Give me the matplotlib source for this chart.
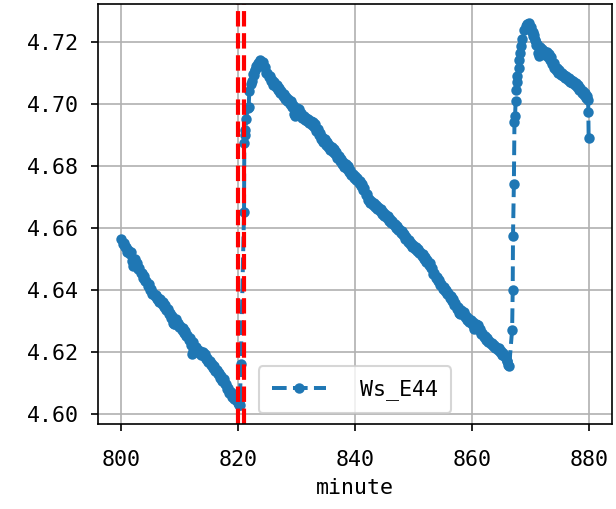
import matplotlib
matplotlib.use("Agg")
from matplotlib import pyplot as plt

# minute / Ws_E44 values (upper side of the trace)
minute = [
    800.0, 800.4, 800.8, 801.2, 801.6, 802.0, 802.3, 802.7, 803.1, 803.5,
    803.9, 804.3, 804.7, 805.1, 805.5, 805.9, 806.3, 806.7, 807.1, 807.5,
    807.9, 808.3, 808.7, 809.0, 809.3, 809.7, 810.1, 810.5, 810.9, 811.3,
    811.7, 812.1, 812.3, 812.7, 813.1, 813.5, 813.9, 814.3, 814.7, 815.1,
    815.5, 815.9, 816.3, 816.7, 817.1, 817.5, 817.9, 818.3, 818.7, 819.1,
    819.5, 819.8, 820.1, 820.3,
    820.45, 821.0, 821.05, 821.1, 821.2, 821.4, 821.6, 821.8, 821.9, 822.2,
    822.5, 822.8, 823.1, 823.4, 823.8, 824.2, 824.6, 825.0, 825.4, 825.8,
    826.2, 826.6, 827.0, 827.4, 827.8, 828.2, 828.6, 829.0, 829.4, 829.8,
    830.0, 830.4, 830.8, 831.2, 831.6, 832.0, 832.4, 832.8, 833.2, 833.6,
    834.0, 834.4, 834.8, 835.2, 835.6, 836.0, 836.4, 836.8, 837.2, 837.6,
    838.0, 838.4, 838.8, 839.2, 839.6, 840.0, 840.4, 840.8, 841.2, 841.6,
    842.0, 842.4, 842.8, 843.2, 843.6, 844.0, 844.4, 844.8, 845.2, 845.6,
    846.0, 846.4, 846.8, 847.2, 847.6, 848.0, 848.4, 848.8, 849.2, 849.6,
    850.0, 850.4, 850.8, 851.2, 851.6, 852.0, 852.4, 852.8, 853.2, 853.6,
    854.0, 854.4, 854.8, 855.2, 855.6, 856.0, 856.4, 856.8, 857.2, 857.6,
    857.9, 858.2, 858.6, 859.0, 859.4, 859.8, 860.2, 860.4, 860.7, 861.0,
    861.4, 861.8, 862.2, 862.6, 863.0, 863.4, 863.8, 864.2, 864.6, 865.0,
    865.4, 865.8, 866.1, 866.4,
    866.9, 867.0, 867.05, 867.2, 867.3, 867.4, 867.5, 867.6, 867.7, 867.8,
    868.0, 868.1, 868.3, 868.4, 868.6, 868.9, 869.2, 869.5, 869.8, 870.1,
    870.4, 870.6, 870.9, 871.2, 871.5, 871.7, 872.0, 872.4, 872.8, 873.2,
    873.6, 874.0, 874.3, 874.6, 875.0, 875.4, 875.8, 876.2, 876.6, 877.0,
    877.4, 877.8, 878.2, 878.6, 879.0, 879.4, 879.7, 879.9, 879.95, 880.0,
]
ws_e44 = [
    4.6563, 4.6552, 4.6540, 4.6530, 4.6522, 4.6478, 4.6500, 4.6488, 4.6470, 4.6456,
    4.6445, 4.6430, 4.6418, 4.6403, 4.6392, 4.6384, 4.6375, 4.6370, 4.6362, 4.6352,
    4.6338, 4.6326, 4.6316, 4.6290, 4.6306, 4.6295, 4.6284, 4.6278, 4.6268, 4.6256,
    4.6246, 4.6194, 4.6232, 4.6218, 4.6207, 4.6203, 4.6200, 4.6195, 4.6182, 4.6172,
    4.6162, 4.6154, 4.6144, 4.6132, 4.6122, 4.6113, 4.6098, 4.6083, 4.6070, 4.6062,
    4.6058, 4.6048, 4.6036, 4.6030,
    4.6161, 4.6650, 4.6874, 4.6900, 4.6917, 4.6950, 4.6985, 4.6990, 4.7040, 4.7065,
    4.7095, 4.7110, 4.7122, 4.7132, 4.7142, 4.7135, 4.7120, 4.7100, 4.7088, 4.7078,
    4.7070, 4.7062, 4.7052, 4.7040, 4.7030, 4.7022, 4.7014, 4.7008, 4.6995, 4.6960,
    4.6987, 4.6982, 4.6970, 4.6962, 4.6955, 4.6950, 4.6946, 4.6941, 4.6935, 4.6920,
    4.6905, 4.6893, 4.6885, 4.6876, 4.6868, 4.6860, 4.6854, 4.6846, 4.6833, 4.6822,
    4.6812, 4.6805, 4.6799, 4.6786, 4.6774, 4.6768, 4.6760, 4.6752, 4.6742, 4.6730,
    4.6708, 4.6693, 4.6686, 4.6680, 4.6674, 4.6668, 4.6661, 4.6653, 4.6645, 4.6638,
    4.6630, 4.6624, 4.6614, 4.6605, 4.6598, 4.6590, 4.6582, 4.6572, 4.6562, 4.6553,
    4.6545, 4.6538, 4.6532, 4.6524, 4.6515, 4.6505, 4.6497, 4.6488, 4.6472, 4.6455,
    4.6443, 4.6432, 4.6420, 4.6410, 4.6400, 4.6390, 4.6381, 4.6370, 4.6357, 4.6345,
    4.6322, 4.6336, 4.6328, 4.6318, 4.6310, 4.6303, 4.6298, 4.6274, 4.6292, 4.6288,
    4.6275, 4.6262, 4.6252, 4.6244, 4.6236, 4.6230, 4.6224, 4.6218, 4.6212, 4.6205,
    4.6197, 4.6188, 4.6172, 4.6156,
    4.6272, 4.6400, 4.6573, 4.6742, 4.6942, 4.6960, 4.7008, 4.7046, 4.7070, 4.7088,
    4.7115, 4.7142, 4.7165, 4.7185, 4.7210, 4.7239, 4.7250, 4.7258, 4.7260, 4.7248,
    4.7232, 4.7223, 4.7205, 4.7192, 4.7153, 4.7182, 4.7175, 4.7170, 4.7166, 4.7162,
    4.7150, 4.7132, 4.7120, 4.7115, 4.7108, 4.7100, 4.7094, 4.7088, 4.7083, 4.7078,
    4.7073, 4.7068, 4.7062, 4.7052, 4.7042, 4.7035, 4.7025, 4.7013, 4.6975, 4.6890,
]

# readings along the lower side of the thick trace
minute_lo = [
    800.2, 800.6, 801.0, 801.4, 801.8, 802.15, 802.5, 802.9, 803.3, 803.7,
    804.1, 804.5, 804.9, 805.3, 805.7, 806.1, 806.5, 806.9, 807.3, 807.7,
    808.1, 808.5, 808.85, 809.15, 809.5, 809.9, 810.3, 810.7, 811.1, 811.5,
    811.9, 812.2, 812.5, 812.9, 813.3, 813.7, 814.1, 814.5, 814.9, 815.3,
    815.7, 816.1, 816.5, 816.9, 817.3, 817.7, 818.1, 818.5, 818.9, 819.3,
    819.65, 819.95, 820.2,
    822.35, 822.65, 822.95, 823.25, 823.6, 824.0, 824.4, 824.8, 825.2, 825.6,
    826.0, 826.4, 826.8, 827.2, 827.6, 828.0, 828.4, 828.8, 829.2, 829.6,
    829.9, 830.2, 830.6, 831.0, 831.4, 831.8, 832.2, 832.6, 833.0, 833.4,
    833.8, 834.2, 834.6, 835.0, 835.4, 835.8, 836.2, 836.6, 837.0, 837.4,
    837.8, 838.2, 838.6, 839.0, 839.4, 839.8, 840.2, 840.6, 841.0, 841.4,
    841.8, 842.2, 842.6, 843.0, 843.4, 843.8, 844.2, 844.6, 845.0, 845.4,
    845.8, 846.2, 846.6, 847.0, 847.4, 847.8, 848.2, 848.6, 849.0, 849.4,
    849.8, 850.2, 850.6, 851.0, 851.4, 851.8, 852.2, 852.6, 853.0, 853.4,
    853.8, 854.2, 854.6, 855.0, 855.4, 855.8, 856.2, 856.6, 857.0, 857.4,
    857.75, 858.05, 858.4, 858.8, 859.2, 859.6, 860.0, 860.3, 860.55, 860.85,
    861.2, 861.6, 862.0, 862.4, 862.8, 863.2, 863.6, 864.0, 864.4, 864.8,
    865.2, 865.6, 865.95, 866.25,
    870.25, 870.5, 870.75, 871.05, 871.35, 871.6, 871.85, 872.2, 872.6, 873.0,
    873.4, 873.8, 874.15, 874.45, 874.8, 875.2, 875.6, 876.0, 876.4, 876.8,
    877.2, 877.6, 878.0, 878.4, 878.8, 879.2, 879.55,
]
ws_lo = [
    4.6548, 4.6538, 4.6524, 4.6515, 4.6492, 4.6482, 4.6484, 4.6468, 4.6455, 4.6440,
    4.6428, 4.6414, 4.6400, 4.6388, 4.6380, 4.6370, 4.6363, 4.6355, 4.6346, 4.6335,
    4.6322, 4.6310, 4.6295, 4.6292, 4.6290, 4.6280, 4.6270, 4.6263, 4.6252, 4.6240,
    4.6222, 4.6205, 4.6215, 4.6203, 4.6196, 4.6192, 4.6188, 4.6178, 4.6168, 4.6157,
    4.6148, 4.6140, 4.6128, 4.6117, 4.6108, 4.6096, 4.6082, 4.6068, 4.6056, 4.6050,
    4.6045, 4.6036, 4.6030,
    4.7072, 4.7092, 4.7108, 4.7120, 4.7128, 4.7130, 4.7118, 4.7100, 4.7085, 4.7072,
    4.7062, 4.7055, 4.7045, 4.7035, 4.7024, 4.7015, 4.7008, 4.7000, 4.6990, 4.6968,
    4.6965, 4.6972, 4.6966, 4.6955, 4.6948, 4.6944, 4.6938, 4.6933, 4.6925, 4.6912,
    4.6898, 4.6886, 4.6876, 4.6868, 4.6860, 4.6852, 4.6845, 4.6838, 4.6826, 4.6815,
    4.6805, 4.6798, 4.6790, 4.6780, 4.6770, 4.6760, 4.6754, 4.6745, 4.6735, 4.6722,
    4.6705, 4.6690, 4.6682, 4.6674, 4.6668, 4.6662, 4.6655, 4.6646, 4.6638, 4.6632,
    4.6624, 4.6616, 4.6608, 4.6600, 4.6592, 4.6585, 4.6576, 4.6566, 4.6556, 4.6548,
    4.6540, 4.6533, 4.6526, 4.6518, 4.6510, 4.6500, 4.6491, 4.6482, 4.6470, 4.6452,
    4.6440, 4.6428, 4.6416, 4.6405, 4.6396, 4.6386, 4.6376, 4.6366, 4.6352, 4.6340,
    4.6325, 4.6326, 4.6322, 4.6312, 4.6304, 4.6298, 4.6292, 4.6280, 4.6278, 4.6282,
    4.6270, 4.6258, 4.6248, 4.6240, 4.6232, 4.6225, 4.6219, 4.6213, 4.6207, 4.6200,
    4.6192, 4.6183, 4.6170, 4.6158,
    4.7230, 4.7218, 4.7205, 4.7190, 4.7165, 4.7162, 4.7168, 4.7163, 4.7158, 4.7152,
    4.7142, 4.7128, 4.7115, 4.7108, 4.7100, 4.7094, 4.7088, 4.7082, 4.7076, 4.7071,
    4.7066, 4.7060, 4.7054, 4.7046, 4.7036, 4.7028, 4.7020,
]
event_minutes = [820, 821]

# put both sets of readings in time order
pairs = sorted(zip(minute + minute_lo, ws_e44 + ws_lo))
xs = [p[0] for p in pairs]
ys = [p[1] for p in pairs]

plt.rcParams['font.family'] = ['DejaVu Sans Mono']
plt.rcParams['font.size'] = 10.4

fig = plt.figure(figsize=(616 / 150, 509 / 150), dpi=150)
ax = fig.add_axes([98 / 616, 1 - 424 / 509, (612 - 98) / 616, (424 - 4) / 509])

ax.plot(xs, ys, '--.', color='tab:blue', linewidth=1.9, markersize=8,
        label='Ws_E44')
for m in event_minutes:
    ax.axvline(m, color='red', linestyle='--', linewidth=2)

ax.set_xticks([800, 820, 840, 860, 880])
ax.set_yticks([4.60, 4.62, 4.64, 4.66, 4.68, 4.70, 4.72])
ax.tick_params(axis='x', pad=9)
ax.tick_params(axis='y', pad=5.5)
ax.set_xlabel('minute')
ax.grid(True)
ax.legend(loc='lower center', handlelength=2.5, handletextpad=1.6, borderpad=0.6)

fig.savefig('out.png', dpi=150)
